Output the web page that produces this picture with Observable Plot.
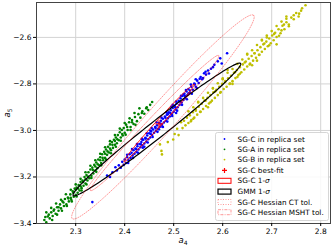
<!DOCTYPE html>
<html><head><meta charset="utf-8">
<script src="https://cdn.jsdelivr.net/npm/d3@7"></script>
<script src="https://cdn.jsdelivr.net/npm/@observablehq/plot@0.6"></script>
<style>body{margin:0;background:#fff}#chart{width:332px;height:249px}</style>
</head><body><div id="chart"></div>
<script>
const xTicks = [2.3, 2.4, 2.5, 2.6, 2.7, 2.8];
const yTicks = [-2.6, -2.8, -3.0, -3.2, -3.4];

// SG-C in replica set (a4, a5)
const sgC = [[2.334,-3.308],[2.364,-3.194],[2.370,-3.200],[2.375,-3.180],[2.381,-3.158],[2.384,-3.172],[2.388,-3.150],[2.392,-3.160],[2.395,-3.135],[2.398,-3.148],
[2.400,-3.125],[2.403,-3.140],[2.405,-3.115],[2.408,-3.128],[2.410,-3.102],[2.412,-3.118],[2.414,-3.096],[2.416,-3.108],[2.418,-3.085],[2.420,-3.100],
[2.422,-3.078],[2.424,-3.092],[2.426,-3.068],[2.428,-3.082],[2.430,-3.058],[2.432,-3.072],[2.434,-3.050],[2.436,-3.064],[2.438,-3.040],[2.440,-3.056],
[2.442,-3.032],[2.444,-3.048],[2.446,-3.022],[2.448,-3.038],[2.450,-3.012],[2.452,-3.030],[2.454,-3.004],[2.456,-3.020],[2.458,-2.996],[2.460,-3.010],
[2.462,-2.985],[2.464,-3.002],[2.466,-2.978],[2.468,-2.993],[2.470,-2.968],[2.472,-2.984],[2.474,-2.958],[2.476,-2.975],[2.478,-2.950],[2.480,-2.966],
[2.482,-2.940],[2.484,-2.958],[2.486,-2.932],[2.488,-2.948],[2.490,-2.922],[2.492,-2.940],[2.494,-2.913],[2.496,-2.930],[2.498,-2.903],[2.500,-2.920],
[2.502,-2.894],[2.504,-2.910],[2.506,-2.884],[2.508,-2.900],[2.510,-2.873],[2.512,-2.890],[2.514,-2.862],[2.516,-2.880],[2.518,-2.852],[2.520,-2.868],
[2.522,-2.842],[2.524,-2.860],[2.526,-2.832],[2.528,-2.848],[2.530,-2.822],[2.533,-2.838],[2.536,-2.812],[2.539,-2.825],[2.542,-2.798],[2.545,-2.812],
[2.548,-2.786],[2.551,-2.796],[2.555,-2.770],[2.558,-2.780],[2.562,-2.754],[2.566,-2.760],[2.570,-2.742],[2.576,-2.735],[2.583,-2.718],[2.590,-2.703],
[2.609,-2.668],[2.436,-3.040],[2.452,-3.000],[2.470,-2.995],[2.488,-2.930],[2.505,-2.925],[2.520,-2.845],[2.440,-3.070],[2.478,-2.985],[2.498,-2.890],[2.530,-2.840],
[2.405,-3.105],[2.415,-3.080],[2.425,-3.058],[2.435,-3.036],[2.445,-3.012],[2.455,-2.990],[2.465,-2.965],[2.475,-2.945],[2.485,-2.922],[2.495,-2.898],
[2.505,-2.876],[2.515,-2.851],[2.525,-2.826],[2.535,-2.803],[2.545,-2.780],[2.407,-3.140],[2.417,-3.118],[2.427,-3.096],[2.437,-3.074],[2.447,-3.052],
[2.457,-3.028],[2.467,-3.006],[2.477,-2.984],[2.487,-2.962],[2.497,-2.938],[2.507,-2.915],[2.517,-2.890],[2.527,-2.866],[2.537,-2.842],[2.547,-2.818],
[2.423,-3.080],[2.433,-3.060],[2.443,-3.035],[2.453,-3.015],[2.463,-2.990],[2.473,-2.970],[2.483,-2.945],[2.493,-2.925],[2.503,-2.900],[2.513,-2.876],
[2.523,-2.852],[2.533,-2.828],[2.543,-2.802],[2.553,-2.778],[2.560,-2.775],[2.565,-2.748],[2.572,-2.755],[2.580,-2.728],[2.595,-2.690],[2.598,-2.712]];

// SG-A in replica set
const sgA = [[2.232,-3.405],[2.236,-3.385],[2.240,-3.395],[2.243,-3.370],[2.247,-3.378],[2.250,-3.352],[2.253,-3.368],[2.256,-3.340],[2.259,-3.358],[2.262,-3.330],
[2.265,-3.345],[2.268,-3.318],[2.270,-3.335],[2.273,-3.305],[2.276,-3.325],[2.278,-3.295],[2.281,-3.318],[2.284,-3.288],[2.286,-3.305],[2.289,-3.275],
[2.291,-3.298],[2.294,-3.262],[2.296,-3.285],[2.298,-3.250],[2.300,-3.278],[2.302,-3.245],[2.304,-3.268],[2.306,-3.235],[2.308,-3.258],[2.310,-3.222],
[2.312,-3.248],[2.314,-3.215],[2.316,-3.238],[2.318,-3.200],[2.320,-3.228],[2.322,-3.192],[2.324,-3.215],[2.326,-3.180],[2.328,-3.205],[2.330,-3.168],
[2.332,-3.195],[2.334,-3.160],[2.336,-3.185],[2.338,-3.148],[2.340,-3.172],[2.342,-3.138],[2.344,-3.162],[2.346,-3.125],[2.348,-3.150],[2.350,-3.115],
[2.352,-3.140],[2.354,-3.102],[2.356,-3.128],[2.358,-3.092],[2.360,-3.118],[2.362,-3.082],[2.364,-3.105],[2.366,-3.070],[2.368,-3.095],[2.370,-3.060],
[2.372,-3.085],[2.374,-3.050],[2.376,-3.075],[2.378,-3.040],[2.380,-3.062],[2.382,-3.030],[2.384,-3.055],[2.386,-3.020],[2.388,-3.042],[2.390,-3.008],
[2.392,-3.030],[2.394,-2.998],[2.396,-3.022],[2.398,-2.990],[2.400,-3.010],[2.403,-2.975],[2.406,-2.998],[2.409,-2.965],[2.412,-2.985],[2.415,-2.955],
[2.418,-2.972],[2.421,-2.942],[2.425,-2.960],[2.428,-2.930],[2.432,-2.945],[2.436,-2.918],[2.440,-2.928],[2.444,-2.905],[2.448,-2.912],[2.452,-2.890],
[2.456,-2.878],[2.300,-3.255],[2.320,-3.210],[2.340,-3.155],[2.360,-3.100],[2.380,-3.045],[2.290,-3.290],[2.310,-3.240],[2.350,-3.128],[2.370,-3.078],[2.395,-3.015],
[2.240,-3.352],[2.250,-3.333],[2.260,-3.314],[2.270,-3.298],[2.280,-3.274],[2.290,-3.255],[2.300,-3.232],[2.310,-3.208],[2.320,-3.180],[2.330,-3.152],
[2.340,-3.128],[2.350,-3.100],[2.360,-3.072],[2.370,-3.046],[2.380,-3.020],[2.390,-2.992],[2.400,-2.968],[2.410,-2.948],[2.420,-2.925],[2.430,-2.905],
[2.252,-3.385],[2.262,-3.362],[2.272,-3.345],[2.282,-3.325],[2.292,-3.305],[2.302,-3.284],[2.312,-3.258],[2.322,-3.232],[2.332,-3.204],[2.342,-3.178],
[2.352,-3.150],[2.362,-3.125],[2.372,-3.098],[2.382,-3.070],[2.392,-3.044],[2.402,-3.018],[2.412,-2.998],[2.422,-2.976],
[2.285,-3.292],[2.295,-3.268],[2.305,-3.250],[2.315,-3.222],[2.325,-3.198],[2.335,-3.170],[2.345,-3.145],[2.355,-3.118],[2.365,-3.090],[2.375,-3.062],
[2.385,-3.038],[2.405,-2.985],[2.415,-2.965],[2.435,-2.925],[2.445,-2.900],[2.238,-3.372],[2.245,-3.362],[2.255,-3.345],[2.265,-3.330],[2.275,-3.310]];

// SG-B in replica set
const sgB = [[2.472,-3.060],[2.475,-3.088],[2.476,-3.103],[2.488,-3.050],[2.499,-3.039],[2.502,-3.015],[2.507,-2.993],[2.510,-3.020],
[2.515,-2.965],[2.518,-2.990],[2.521,-2.958],[2.524,-2.978],[2.527,-2.945],[2.530,-2.968],[2.533,-2.935],[2.536,-2.955],[2.539,-2.922],[2.542,-2.945],
[2.545,-2.910],[2.548,-2.932],[2.551,-2.898],[2.554,-2.920],[2.557,-2.885],[2.560,-2.908],[2.563,-2.872],[2.566,-2.895],[2.569,-2.860],[2.572,-2.884],
[2.575,-2.848],[2.578,-2.872],[2.581,-2.836],[2.584,-2.860],[2.587,-2.825],[2.590,-2.848],[2.593,-2.812],[2.596,-2.835],[2.599,-2.800],[2.602,-2.822],
[2.605,-2.788],[2.608,-2.812],[2.611,-2.776],[2.614,-2.800],[2.617,-2.765],[2.620,-2.788],[2.623,-2.752],[2.626,-2.775],[2.629,-2.740],[2.632,-2.762],
[2.635,-2.728],[2.638,-2.750],[2.641,-2.716],[2.644,-2.738],[2.647,-2.704],[2.650,-2.725],[2.653,-2.692],[2.656,-2.712],[2.659,-2.680],[2.662,-2.700],
[2.665,-2.668],[2.668,-2.688],[2.671,-2.655],[2.674,-2.675],[2.677,-2.642],[2.680,-2.662],[2.683,-2.630],[2.686,-2.650],[2.689,-2.618],[2.692,-2.638],
[2.695,-2.605],[2.698,-2.625],[2.701,-2.592],[2.704,-2.612],[2.707,-2.580],[2.710,-2.598],[2.714,-2.565],[2.718,-2.582],[2.722,-2.550],[2.726,-2.565],
[2.730,-2.535],[2.735,-2.545],[2.740,-2.515],[2.745,-2.522],[2.750,-2.495],[2.756,-2.498],[2.762,-2.475],[2.769,-2.462],
[2.550,-2.880],[2.570,-2.900],[2.600,-2.780],[2.620,-2.800],[2.650,-2.670],[2.660,-2.720],[2.690,-2.600],[2.710,-2.630],[2.580,-2.820],[2.630,-2.770],
[2.680,-2.610],[2.720,-2.570],[2.540,-2.950],[2.610,-2.740],[2.670,-2.700],[2.730,-2.520],
[2.530,-2.918],[2.550,-2.877],[2.570,-2.838],[2.590,-2.797],[2.610,-2.752],[2.630,-2.714],[2.650,-2.674],[2.670,-2.633],[2.690,-2.592],[2.710,-2.551],[2.730,-2.510],
[2.540,-2.900],[2.560,-2.860],[2.580,-2.818],[2.600,-2.776],[2.620,-2.736],[2.640,-2.695],[2.660,-2.655],[2.680,-2.613],[2.700,-2.573],[2.720,-2.532],
[2.535,-2.961],[2.555,-2.920],[2.575,-2.879],[2.595,-2.838],[2.615,-2.798],[2.635,-2.756],[2.655,-2.716],[2.675,-2.675],[2.695,-2.634],[2.715,-2.593],[2.735,-2.552],[2.755,-2.510],
[2.545,-2.915],[2.565,-2.872],[2.585,-2.832],[2.605,-2.792],[2.625,-2.750],[2.645,-2.708],[2.665,-2.668],[2.685,-2.626],[2.705,-2.585],[2.725,-2.545],[2.745,-2.505],[2.760,-2.485]];

const bestFit = [[2.470, -2.972]];

// Ellipses: centre, major semi-axis vector, minor semi-axis vector (data units)
const sigmaCenter = [2.470, -2.968], sigmaMajor = [0.0716, 0.1656], sigmaMinor = [0.0045, -0.0085];
const gmmCenter = [2.4657, -2.9957], gmmMajor = [0.1708, 0.2839], gmmMinor = [0.0105, -0.0280];
const ctCenter = [2.478, -2.942], ctMajor = [0.185, 0.437], ctMinor = [0.0214, -0.0400];
const mshtCenter = [2.461, -2.968], mshtMajor = [0.1308, 0.2903], mshtMinor = [0.0095, -0.0190];

function ellipse(c, u, v) {
  return d3.range(0, 360, 2).map(deg => {
    const t = deg * Math.PI / 180;
    return [c[0] + Math.cos(t) * u[0] + Math.sin(t) * v[0], c[1] + Math.cos(t) * u[1] + Math.sin(t) * v[1]];
  });
}

const X = d => d[0], Y = d => d[1];
const plot = Plot.plot({
  width: 332, height: 249,
  marginLeft: 36, marginRight: 2, marginTop: 2, marginBottom: 26,
  x: {domain: [2.22, 2.82]},
  y: {domain: [-3.4, -2.45]},
  style: {fontFamily: "DejaVu Sans", fontSize: "7.5px", color: "#000", background: "#fff"},
  marks: [
    Plot.gridX(xTicks, {stroke: "#d3d3d3", strokeOpacity: 1, strokeWidth: 1}),
    Plot.gridY(yTicks, {stroke: "#d3d3d3", strokeOpacity: 1, strokeWidth: 1}),
    Plot.dot(sgC, {x: X, y: Y, r: 1.3, fill: "#0000ff", clip: true}),
    Plot.dot(sgA, {x: X, y: Y, r: 1.3, fill: "#008000", clip: true}),
    Plot.dot(sgB, {x: X, y: Y, r: 1.3, fill: "#bfbf00", clip: true}),
    Plot.line(ellipse(sigmaCenter, sigmaMajor, sigmaMinor), {x: X, y: Y, curve: "linear-closed", stroke: "#ff0000", strokeWidth: 1, clip: true}),
    Plot.line(ellipse(gmmCenter, gmmMajor, gmmMinor), {x: X, y: Y, curve: "linear-closed", stroke: "#000", strokeWidth: 1.2, clip: true}),
    Plot.line(ellipse(ctCenter, ctMajor, ctMinor), {x: X, y: Y, curve: "linear-closed", stroke: "#ff0000", strokeOpacity: 0.5, strokeWidth: 0.8, strokeDasharray: "1,1.5", clip: true}),
    Plot.line(ellipse(mshtCenter, mshtMajor, mshtMinor), {x: X, y: Y, curve: "linear-closed", stroke: "#ff0000", strokeOpacity: 0.5, strokeWidth: 0.8, strokeDasharray: "3,1.2,1,1.2", clip: true}),
    Plot.dot(bestFit, {x: X, y: Y, symbol: "plus", r: 2.5, stroke: "#ff0000", strokeWidth: 1}),
    Plot.frame({stroke: "#444", strokeWidth: 1}),
    Plot.axisX(xTicks, {tickSize: 3, tickPadding: 2, label: null, tickFormat: d => d.toFixed(1)}),
    Plot.axisY(yTicks, {tickSize: 3, tickPadding: 2, label: null, tickFormat: d => "\u2212" + Math.abs(d).toFixed(1)})
  ]
});
document.getElementById("chart").appendChild(plot);

// axis labels and legend
const svg = d3.select(plot);
const xl = svg.append("text").attr("x", 183).attr("y", 243).attr("text-anchor", "middle")
  .style("font-family", "DejaVu Sans").style("font-size", "8.5px");
xl.append("tspan").style("font-style", "italic").text("a");
xl.append("tspan").attr("dy", 2).style("font-size", "6px").text("4");
const yl = svg.append("text").attr("transform", "translate(10,113) rotate(-90)").attr("text-anchor", "middle")
  .style("font-family", "DejaVu Sans").style("font-size", "8.5px");
yl.append("tspan").style("font-style", "italic").text("a");
yl.append("tspan").attr("dy", 2).style("font-size", "6px").text("5");

const legendLabels = ["SG-C in replica set", "SG-A in replica set", "SG-B in replica set", "SG-C best-fit", "SG-C 1-\u03c3", "GMM 1-\u03c3", "SG-C Hessian CT tol.", "SG-C Hessian MSHT tol."];
const g = svg.append("g").style("font-family", "DejaVu Sans").style("font-size", "7.3px").attr("text-anchor", "start");
g.append("rect").attr("x", 215.5).attr("y", 132.5).attr("width", 113).attr("height", 88).attr("rx", 2)
  .attr("fill", "#fff").attr("fill-opacity", 0.85).attr("stroke", "#ccc").attr("stroke-width", 0.8);
const rowY = [139, 149.3, 159.6, 170.4, 180.8, 191.6, 202, 212.2];
legendLabels.forEach((lab, i) => {
  const t = g.append("text").attr("x", 237.5).attr("y", rowY[i]).attr("dy", "0.35em").attr("text-anchor", "start");
  if (lab.endsWith("\u03c3")) {
    t.append("tspan").text(lab.slice(0, -1));
    t.append("tspan").style("font-style", "italic").text("\u03c3");
  } else {
    t.text(lab);
  }
});
g.append("circle").attr("cx", 224.5).attr("cy", rowY[0]).attr("r", 0.9).attr("fill", "#0000ff");
g.append("circle").attr("cx", 224.5).attr("cy", rowY[1]).attr("r", 0.9).attr("fill", "#008000");
g.append("circle").attr("cx", 224.5).attr("cy", rowY[2]).attr("r", 0.9).attr("fill", "#bfbf00");
g.append("path").attr("d", `M222,${rowY[3]}h5M224.5,${rowY[3]-2.5}v5`).attr("stroke", "#ff0000").attr("stroke-width", 1.2);
const patch = (i, stroke, dash, op, w) => g.append("rect").attr("x", 218).attr("y", rowY[i] - 2.5).attr("width", 13).attr("height", 5)
  .attr("fill", "none").attr("stroke", stroke).attr("stroke-opacity", op).attr("stroke-width", w).attr("stroke-dasharray", dash);
patch(4, "#ff0000", null, 1, 1);
patch(5, "#000", null, 1, 1.2);
patch(6, "#ff0000", "1,1.5", 0.5, 0.8);
patch(7, "#ff0000", "3,1.2,1,1.2", 0.5, 0.8);
</script>
</body></html>
